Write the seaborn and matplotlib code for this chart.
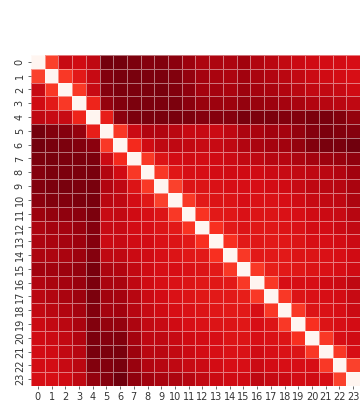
import numpy as np
import pandas as pd
import matplotlib
matplotlib.use("Agg")
import matplotlib.pyplot as plt
from matplotlib.colors import LinearSegmentedColormap
import seaborn as sns

labels = [str(i) for i in range(24)]

# Lower triangle of the pairwise distance matrix (row i, columns 0..i-1)
lower = [
    [],
    [0.58],
    [0.78, 0.60],
    [0.76, 0.70, 0.60],
    [0.80, 0.78, 0.78, 0.66],
    [0.97, 0.94, 0.93, 0.90, 0.68],
    [0.97, 0.96, 0.95, 0.94, 0.92, 0.60],
    [0.95, 0.96, 0.95, 0.95, 0.95, 0.77, 0.64],
    [0.93, 0.95, 0.95, 0.95, 0.96, 0.83, 0.76, 0.60],
    [0.94, 0.95, 0.96, 0.95, 0.96, 0.83, 0.80, 0.72, 0.60],
    [0.92, 0.94, 0.94, 0.95, 0.96, 0.81, 0.80, 0.75, 0.71, 0.58],
    [0.88, 0.90, 0.91, 0.92, 0.95, 0.78, 0.79, 0.76, 0.74, 0.72, 0.60],
    [0.84, 0.86, 0.86, 0.89, 0.93, 0.78, 0.78, 0.75, 0.74, 0.72, 0.70, 0.61],
    [0.84, 0.85, 0.86, 0.88, 0.93, 0.77, 0.78, 0.76, 0.75, 0.73, 0.72, 0.70, 0.62],
    [0.84, 0.84, 0.85, 0.88, 0.93, 0.80, 0.80, 0.77, 0.76, 0.74, 0.72, 0.71, 0.70, 0.62],
    [0.87, 0.87, 0.88, 0.90, 0.96, 0.84, 0.83, 0.79, 0.76, 0.74, 0.74, 0.73, 0.72, 0.70, 0.60],
    [0.83, 0.85, 0.86, 0.89, 0.95, 0.85, 0.85, 0.80, 0.76, 0.74, 0.73, 0.72, 0.71, 0.71, 0.70, 0.60],
    [0.81, 0.83, 0.85, 0.88, 0.95, 0.87, 0.86, 0.82, 0.77, 0.75, 0.73, 0.72, 0.71, 0.70, 0.70, 0.68, 0.60],
    [0.79, 0.81, 0.83, 0.86, 0.94, 0.86, 0.87, 0.82, 0.78, 0.76, 0.74, 0.73, 0.72, 0.71, 0.70, 0.70, 0.74, 0.60],
    [0.77, 0.79, 0.81, 0.85, 0.94, 0.90, 0.90, 0.84, 0.79, 0.78, 0.76, 0.74, 0.73, 0.72, 0.72, 0.71, 0.74, 0.72, 0.60],
    [0.76, 0.77, 0.79, 0.83, 0.95, 0.93, 0.94, 0.86, 0.80, 0.80, 0.78, 0.76, 0.75, 0.74, 0.72, 0.72, 0.74, 0.73, 0.72, 0.62],
    [0.75, 0.76, 0.79, 0.82, 0.96, 0.95, 0.96, 0.88, 0.81, 0.81, 0.79, 0.77, 0.75, 0.74, 0.73, 0.73, 0.76, 0.74, 0.73, 0.72, 0.60],
    [0.75, 0.75, 0.78, 0.81, 0.94, 0.94, 0.96, 0.89, 0.83, 0.82, 0.80, 0.78, 0.77, 0.75, 0.74, 0.74, 0.77, 0.75, 0.74, 0.74, 0.74, 0.60],
    [0.74, 0.74, 0.76, 0.80, 0.90, 0.93, 0.98, 0.91, 0.87, 0.85, 0.84, 0.82, 0.79, 0.77, 0.76, 0.76, 0.80, 0.78, 0.77, 0.75, 0.76, 0.74, 0.58],
]

n = len(labels)
dist = np.zeros((n, n))
for i, row in enumerate(lower):
    for j, v in enumerate(row):
        dist[i, j] = v
        dist[j, i] = v
df = pd.DataFrame(dist, index=labels, columns=labels)

# A vivid white-to-crimson ramp
reds = LinearSegmentedColormap.from_list("vivid_reds", [
    "#fff5f0", "#fee0d2", "#fcbba1", "#fc9272", "#ff6446",
    "#f82d1e", "#d40c14", "#a0020e", "#67000d",
])

fig = plt.figure(figsize=(3.61, 4.01), dpi=100)
ax = fig.add_axes([31 / 361, 1 - 386 / 401, 329 / 361, 331 / 401])
sns.heatmap(df, ax=ax, cmap=reds, vmin=0, vmax=1, cbar=False,
            xticklabels=1, yticklabels=1,
            linewidths=0.4, linecolor=(1, 1, 1, 0.45))
ax.tick_params(axis="both", labelsize=7, length=2.5, width=0.6,
               color="#555555", labelcolor="#333333", pad=2)
plt.setp(ax.get_xticklabels(), rotation=0)
plt.setp(ax.get_yticklabels(), rotation=90, va="center")
fig.savefig("out.png", dpi=100)
